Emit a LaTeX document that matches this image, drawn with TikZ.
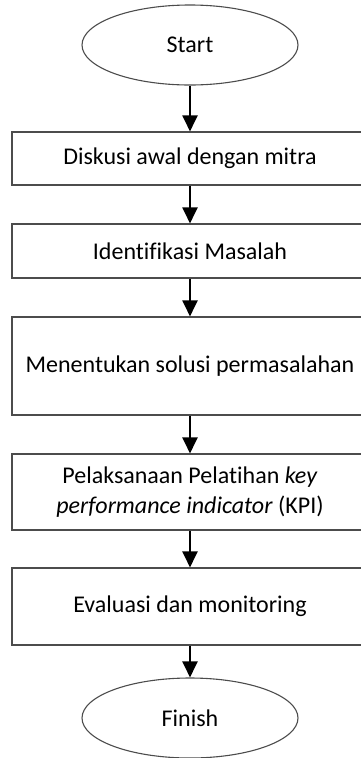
\documentclass[tikz,border=0pt]{standalone}
\usepackage{fontspec}
\setmainfont{Carlito}[Ligatures=NoCommon]
\usetikzlibrary{shapes.geometric}
\usetikzlibrary{arrows.meta}

\tikzset{
  term/.style={ellipse, draw=black!70, line width=1.1pt, minimum width=216pt, minimum height=80pt, inner sep=0pt},
  stepbox/.style={rectangle, draw=black!70, line width=1.1pt, minimum width=356pt, inner sep=0pt, align=center},
  flow/.style={line width=2pt, -{Triangle[width=15pt,length=16pt]}}
}

\begin{document}
\begin{tikzpicture}[x=1pt,y=-1pt,font=\fontsize{24}{30}\selectfont]
\useasboundingbox (0,0) rectangle (361,758);
%Start
\node[term] (start) at (190,45) {Start};

%langkah
\node[stepbox, minimum height=53pt] (diskusi) at (190,158.5) {Diskusi awal dengan mitra};
\node[stepbox, minimum height=54pt] (identifikasi) at (190,251) {Identifikasi Masalah};
\node[stepbox, minimum height=98pt] (solusi) at (190,366) {Menentukan solusi permasalahan};
\node[stepbox, minimum height=76pt] (pelatihan) at (190,492) {Pelaksanaan Pelatihan \textit{key}\\\textit{performance indicator} (KPI)};
\node[stepbox, minimum height=77pt] (evaluasi) at (190,606.5) {Evaluasi dan monitoring};

%Finish
\node[term] (finish) at (190,718) {Finish};

\draw[flow] (start) -- (diskusi);
\draw[flow] (diskusi) -- (identifikasi);
\draw[flow] (identifikasi) -- (solusi);
\draw[flow] (solusi) -- (pelatihan);
\draw[flow] (pelatihan) -- (evaluasi);
\draw[flow] (evaluasi) -- (finish);

\end{tikzpicture}
\end{document}
